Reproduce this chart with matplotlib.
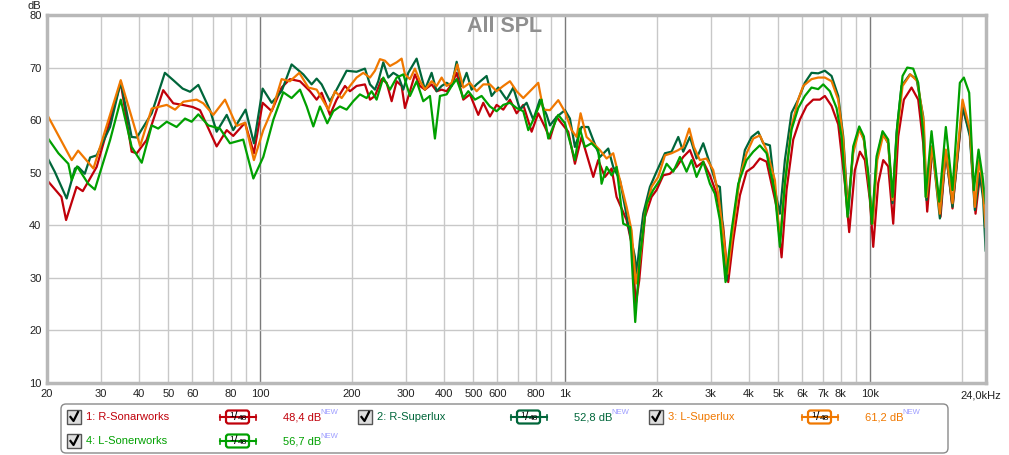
import matplotlib
matplotlib.use("Agg")
import matplotlib.pyplot as plt
from matplotlib.patches import FancyBboxPatch, Rectangle
from matplotlib.lines import Line2D

plt.rcParams['font.family'] = ['Liberation Sans', 'DejaVu Sans']

# ---------------- data ----------------
r_sonar_f = [20, 22.3, 23.1, 25, 26.2, 29.1, 34.9, 37.9, 39.4, 42.4, 48.1, 51.9, 55.7, 60.1, 63.5, 72, 77.7, 81.6, 89.2,
             95.4, 101.9, 109.1, 117.6, 125.2, 135.1, 145.7, 153.2, 159.1, 169.4, 178.1, 189.7, 197, 207.1, 220.6, 229.2,
             237.9, 250.3, 259.9, 269.9, 280.3, 291, 298.4, 309.9, 321.8, 334.2, 347, 365, 379, 393.6, 408.8, 424.6,
             440.9, 463.6, 487.5, 519.1, 539.1, 566.9, 596.2, 627, 659.3, 693.4, 729.2, 776.6, 816.5, 858.7,
             891.8, 937.6, 1024, 1077, 1132, 1237, 1284, 1351, 1421, 1475, 1591, 1652, 1706, 1750, 1827, 1921, 1995,
             2098, 2206, 2320, 2440, 2566, 2698, 2838, 2985, 3138, 3300, 3427, 3558, 3743, 3936, 4140, 4352, 4578,
             4937, 5127, 5323, 5598, 5886, 6190, 6510, 6847, 7110, 7478, 7864, 8268, 8543, 8917, 9261, 9617, 9988,
             10243, 10636, 11046, 11470, 11911, 12370, 12909, 13679, 14385, 14938, 15396, 16028, 17026, 17722, 18636,
             20102, 21245, 22178, 22910, 23620, 23930]
r_sonar_db = [48.6, 45.4, 41.0, 47.3, 46.5, 51.1, 67.1, 54.0, 53.7, 56.2, 65.7, 63.2, 62.9, 62.5, 61.9, 55.0, 58.1, 57.0, 59.5,
              53.7, 63.3, 61.7, 66.2, 67.8, 67.4, 65.5, 63.9, 65.2, 61.0, 63.9, 66.5, 65.5, 66.5, 66.8, 63.9,
              64.6, 67.8, 67.1, 63.6, 67.4, 66.5, 62.3, 65.5, 68.7, 66.5, 65.8, 66.8, 65.5, 65.8, 65.5, 66.8,
              69.0, 63.9, 64.9, 61.0, 63.3, 60.7, 62.9, 62.0, 63.9, 61.3, 62.9, 57.8, 61.3, 58.7,
              56.5, 60.6, 57.8, 51.7, 56.8, 49.2, 52.4, 49.2, 50.8, 45.4, 41.0, 36.5, 25.1, 29.5, 41.6, 45.4, 46.7,
              49.5, 49.8, 51.1, 53.0, 54.3, 51.1, 52.1, 49.5, 46.0, 39.7, 29.2, 37.1, 45.7, 50.2, 51.1, 52.7, 52.1,
              43.5, 33.9, 46.7, 56.3, 60.1, 62.7, 63.9, 63.9, 64.6, 62.7, 59.2, 48.0, 38.7, 50.5, 54.0, 52.4, 44.8,
              35.9, 48.0, 52.4, 51.2, 40.3, 56.9, 63.9, 66.2, 63.9, 55.6, 42.6, 55.0, 41.6, 54.0, 43.2,
              62.3, 57.6, 42.2, 49.3, 45.4, 37.8]

r_super_f = [20, 21.2, 23.2, 24.7, 25.3, 26.6, 27.7, 29.1, 32.2, 34.9, 37.9, 39.4, 44.1, 48.7, 51.9, 55.7, 58.9, 62.7,
             68.5, 72, 77.7, 81.6, 89.6,
             95.4, 101.9, 109.1, 117.6, 126.8, 138.5, 147.5, 153.2, 159.1, 169.4, 178.1, 192.1, 207.1, 220.6, 229.2,
             237.9, 244, 253.4, 263.2, 273.3, 283.8, 294.7, 306, 325.9, 347, 365, 379, 393.6, 408.8, 424.6, 440.9,
             457.8, 475.4, 493.7, 512.6, 552.8, 574.1, 603.7, 642.9, 676.1, 711.1, 747.8, 786.4, 826.8, 869.6,
             891.8, 937.6, 998.8, 1037, 1077, 1132, 1191, 1237, 1301, 1385, 1438, 1513, 1571, 1632, 1694, 1716, 1759,
             1804, 1897, 1995, 2125, 2234, 2350, 2440, 2566, 2698, 2838, 2985, 3138, 3218, 3384, 3514, 3696, 3886,
             4088, 4298, 4464, 4695,
             4875, 5062, 5257, 5528, 5813, 6112, 6428, 6761, 7110, 7478, 7864, 8166, 8479, 8805, 9214, 9544, 9861,
             10191, 10503, 10990, 11470, 11852, 12214, 12684, 13508, 14206, 14938, 15319, 15988, 16940, 17722, 18636,
             20102, 21245, 22062, 22910, 23500, 23930]
r_super_db = [53.0, 50.2, 45.1, 50.8, 51.1, 49.8, 52.9, 53.3, 58.7, 67.3, 56.8, 56.7, 61.3, 69.0, 67.6, 66.0, 65.4, 66.7,
              61.9, 57.8, 61.0, 58.1, 62.0,
              55.6, 66.0, 63.3, 65.5, 70.6, 68.7, 66.8, 67.9, 66.8, 63.6, 65.8, 69.4, 69.2, 69.8, 66.8,
              65.8, 67.4, 71.0, 68.1, 69.0, 68.4, 65.8, 69.0, 71.7, 65.8, 69.0, 65.5, 66.5, 67.1, 66.5, 71.1,
              66.5, 69.0, 65.8, 66.8, 68.4, 64.6, 66.2, 63.9, 66.2, 62.0, 63.3, 60.1, 63.9, 61.0,
              59.0, 60.6, 61.9, 60.3, 54.9, 58.7, 58.7, 56.2, 53.0, 54.6, 51.1, 48.6, 43.5, 38.4, 34.0, 30.8, 37.1,
              42.2, 47.3, 50.2, 53.7, 54.0, 56.8, 54.0, 56.8, 52.7, 55.6, 51.7, 47.6, 47.3, 29.5, 37.8, 47.3, 54.3,
              56.8, 57.8, 55.6, 55.2,
              46.7, 42.2, 52.4, 61.4, 63.9, 67.1, 69.0, 68.9, 69.4, 68.4, 64.6, 56.9, 42.2, 54.4, 58.5, 56.3, 49.3,
              40.3, 52.4, 57.6, 55.6, 44.2, 57.6, 66.5, 68.7, 67.8, 60.7, 44.8, 55.0, 41.3, 54.0, 43.5,
              62.7, 56.9, 42.9, 49.9, 44.8, 35.2]

l_super_f = [20, 24.1, 25.3, 28.4, 34.9, 40.4, 44.1, 49.4, 52.6, 56, 61.9, 65.1, 70.2, 76.7, 83.7, 89.2,
             95.4, 102.4, 110.5, 117.6, 125.2, 134.4, 143.9, 153.2, 167.3, 175.9, 185, 197, 207.1, 217.8, 229.2,
             237.9, 247.1, 256.6, 266.5, 280.3, 291, 298.4, 309.9, 321.8, 334.2, 347, 365, 379, 393.6, 408.8, 424.6,
             443.1, 463.6, 487.5, 512.6, 539.1, 566.9, 596.2, 627, 659.3, 693.4, 729.2, 776.6, 816.5, 847.9,
             891.8, 949.6, 998.8, 1050, 1091, 1124, 1176, 1237, 1301, 1368, 1438, 1513, 1591, 1652, 1706, 1759, 1827,
             1921, 2020, 2125, 2234, 2350, 2440, 2553, 2645, 2767, 2910, 3060, 3178, 3300, 3410, 3540, 3743, 3936,
             4140, 4352, 4578,
             4875, 5062, 5257, 5528, 5813, 6036, 6428, 6761, 7110, 7478, 7864, 8166, 8436, 8805, 9214, 9544, 9911,
             10191, 10560, 11046, 11470, 11852, 12276, 12781, 13560, 14300, 15013, 15319, 15988, 16940, 17722, 18636,
             20102, 21245, 22062, 22795, 23380, 23930]
l_super_db = [61.1, 52.4, 54.2, 50.8, 67.6, 55.1, 62.2, 62.9, 62.0, 63.5, 63.9, 63.2, 61.0, 63.9, 58.9, 59.5,
              52.4, 58.1, 62.6, 67.8, 67.4, 69.0, 66.2, 65.8, 62.0, 65.5, 64.2, 66.5, 68.1, 69.0, 68.1,
              69.4, 71.6, 71.3, 70.3, 71.0, 71.7, 68.7, 67.8, 69.8, 67.4, 65.8, 67.4, 66.5, 68.1, 66.5, 67.1,
              70.6, 66.2, 67.1, 65.5, 66.8, 66.8, 65.5, 66.5, 67.4, 65.5, 64.2, 65.8, 67.1, 62.0,
              61.9, 63.8, 61.6, 58.1, 56.8, 61.3, 56.8, 55.6, 54.3, 52.7, 53.7, 48.6, 43.5, 39.0, 28.9, 33.3, 42.2,
              47.3, 49.2, 53.3, 53.7, 54.3, 54.9, 58.4, 54.9, 52.4, 52.7, 50.5, 46.0, 38.4, 30.8, 38.4, 49.2, 53.7,
              56.5, 57.1, 54.3,
              48.6, 37.1, 48.0, 58.8, 63.9, 66.5, 67.8, 68.1, 68.1, 67.4, 63.9, 56.3, 42.9, 53.7, 58.2, 56.3, 48.0,
              40.3, 52.4, 57.2, 55.6, 44.8, 57.6, 66.5, 68.7, 67.4, 59.5, 45.4, 55.0, 42.2, 54.4, 44.2,
              63.9, 58.2, 43.5, 52.4, 48.0, 39.7]

l_sonar_f = [20, 21.8, 23.5, 24.1, 25.1, 27.3, 28.7, 32.2, 34.9, 37.9, 40.9, 44.1, 46.3, 49.4, 53.2, 56.7, 59.6, 62.7,
             67.6, 73.8, 79.6, 88, 95,
             102.4, 110.5, 119.1, 126.8, 135.1, 142.1, 149.4, 157.1, 166, 173.7, 182.7, 192.1, 202, 212.4, 223.4, 232,
             240.9, 253.4, 266.5, 280.3, 294.7, 309.9, 325.9, 342.7, 360.4, 374.2, 388.7, 408.8, 424.6, 440.9, 463.6,
             481.4, 506.2, 532.3, 566.9, 596.2, 627, 659.3, 693.4, 729.2, 757.3, 796.2, 837.3, 880.6,
             949.6, 998.8, 1077, 1118, 1161, 1221, 1284, 1317, 1368, 1421, 1475, 1551, 1632, 1698, 1759, 1850, 1945,
             2046, 2152, 2263, 2380, 2502, 2598, 2698, 2838, 2985, 3099, 3218, 3358, 3514, 3696, 3936, 4140, 4352, 4578,
             4875, 5062, 5257, 5528, 5813, 6112, 6428, 6761, 7021, 7384, 7766, 8064, 8436, 8805, 9214, 9544, 9861,
             10139, 10503, 10990, 11470, 11852, 12276, 12781, 13240, 13852, 14385, 14938, 15205, 15909, 16854, 17722,
             18636, 19700, 20304, 21140, 21896, 22685, 23380, 23930]
l_sonar_db = [56.8, 53.7, 51.7, 48.6, 51.2, 47.9, 46.8, 56.2, 63.9, 54.9, 51.9, 59.0, 58.4, 59.7, 58.7, 60.3, 59.7, 61.1,
              59.0, 58.4, 55.6, 56.3, 48.9,
              53.0, 60.1, 65.3, 64.2, 65.8, 62.6, 58.8, 62.6, 59.4, 61.7, 62.6, 62.0, 63.6, 64.9, 64.2, 65.5,
              63.9, 68.1, 65.8, 68.1, 68.7, 64.6, 67.4, 63.6, 64.6, 56.5, 64.6, 64.9, 66.5, 67.8, 64.2,
              65.5, 63.9, 64.6, 62.6, 61.7, 62.9, 63.3, 62.3, 61.7, 58.1, 60.7, 63.9, 56.5,
              61.0, 59.4, 52.4, 58.4, 54.9, 55.6, 54.3, 47.9, 51.1, 49.5, 51.1, 40.3, 39.7, 21.6, 34.0, 44.1, 46.7,
              48.6, 51.7, 50.2, 53.0, 50.2, 52.4, 49.2, 52.1, 47.9, 46.0, 41.0, 29.2, 39.0, 47.9, 52.4, 54.0, 55.2, 53.7,
              46.1, 35.9, 48.0, 58.2, 62.3, 64.6, 66.2, 65.9, 66.8, 65.5, 62.3, 56.9, 41.6, 55.0, 58.8, 56.9, 49.9,
              40.3, 53.1, 57.9, 56.3, 45.4, 58.8, 68.4, 70.0, 69.8, 67.1, 57.6, 45.4, 57.9, 44.5, 58.7,
              46.7, 67.1, 68.1, 65.2, 46.7, 54.4, 49.3, 44.2]

series_names = ['1: R-Sonarworks', '2: R-Superlux', '3: L-Superlux', '4: L-Sonerworks']
series_levels = ['48,4 dB', '52,8 dB', '61,2 dB', '56,7 dB']
series_colors = ['#c0000a', '#00663a', '#f07800', '#00a000']
smoothing = ('1', '48')

x_ticks = [20, 30, 40, 50, 60, 80, 100, 200, 300, 400, 500, 600, 800, 1000, 2000, 3000, 4000, 5000, 6000, 7000, 8000, 10000]
x_tick_labels = ['20', '30', '40', '50', '60', '80', '100', '200', '300', '400', '500', '600', '800',
                 '1k', '2k', '3k', '4k', '5k', '6k', '7k', '8k', '10k']
y_ticks = [10, 20, 30, 40, 50, 60, 70, 80]

# ---------------- figure ----------------
W, H = 1009, 455
fig = plt.figure(figsize=(W / 100, H / 100), dpi=100)
ax = fig.add_axes([47 / W, (H - 383) / H, 939 / W, 368 / H])
ax.set_xscale('log')
ax.set_xlim(20, 24000)
ax.set_ylim(10, 80)

grid_f = [20, 30, 40, 50, 60, 70, 80, 90, 100, 200, 300, 400, 500, 600, 700, 800, 900,
          1000, 2000, 3000, 4000, 5000, 6000, 7000, 8000, 9000, 10000, 20000]
for g in grid_f:
    dark = g in (100, 1000, 10000)
    ax.axvline(g, color='#7a7a7a' if dark else '#c8c8c8', lw=1.0, zorder=1)
for yv in y_ticks:
    ax.axhline(yv, color='#c8c8c8', lw=1.0, zorder=1)

for f, d, c in zip([r_sonar_f, r_super_f, l_super_f, l_sonar_f],
                   [r_sonar_db, r_super_db, l_super_db, l_sonar_db], series_colors):
    ax.plot(f, d, color=c, lw=1.6, zorder=3, solid_joinstyle='round')

ax.set_xticks(x_ticks)
ax.set_xticklabels(x_tick_labels)
ax.xaxis.set_minor_locator(matplotlib.ticker.NullLocator())
ax.set_yticks(y_ticks)
ax.tick_params(length=0, labelsize=8, colors='#202020', pad=4)
for s in ax.spines.values():
    s.set_color('#b8b8b8')
    s.set_linewidth(2.5)
    s.set_zorder(5)

T = fig.dpi_scale_trans
def P(x, y):
    return (x / 100, (H - y) / 100)

fig.text(*P(1001, 396), '24,0kHz', transform=T, ha='right', va='center', fontsize=8, color='#202020')
fig.text(*P(41, 6), 'dB', transform=T, ha='right', va='center', fontsize=8, color='#202020')
fig.text(*P(505, 27), 'All SPL', transform=T, ha='center', va='center', fontsize=15.5,
         fontweight='bold', color='#8f8f8f')

# ---------------- legend ----------------
lx0, ly0, lx1, ly1 = 61, 404, 948, 453
fig.patches.append(FancyBboxPatch(P(lx0, ly1), (lx1 - lx0) / 100, (ly1 - ly0) / 100,
                                  boxstyle='round,pad=0,rounding_size=0.05', transform=T,
                                  facecolor='white', edgecolor='#8a8a8a', lw=1.0))

slots = [(67, 417), (358, 417), (649, 417), (67, 441)]
for (sx, sy), name, lvl, col in zip(slots, series_names, series_levels, series_colors):
    # checkbox
    fig.patches.append(Rectangle(P(sx, sy + 7), 0.14, 0.14, transform=T,
                                 facecolor='#dedede', edgecolor='#555555', lw=1.0))
    cx = [sx + 3.5, sx + 6.5, sx + 11]
    cy = [sy, sy + 4, sy - 5]
    fig.lines.append(Line2D([c / 100 for c in cx], [(H - c) / 100 for c in cy], transform=T,
                            color='black', lw=1.6))
    fig.text(*P(sx + 19, sy), name, transform=T, ha='left', va='center', fontsize=8, color=col)
    # smoothing box
    bx = sx + 153
    fig.lines.append(Line2D([bx / 100, (bx + 36) / 100], [(H - sy) / 100] * 2, transform=T, color=col, lw=1.5))
    for ex in (bx, bx + 36):
        fig.lines.append(Line2D([ex / 100] * 2, [(H - sy - 2.5) / 100, (H - sy + 2.5) / 100], transform=T,
                                color=col, lw=1.2))
    fig.patches.append(FancyBboxPatch(P(bx + 6, sy + 6.5), 0.23, 0.13,
                                      boxstyle='round,pad=0,rounding_size=0.025', transform=T,
                                      facecolor='white', edgecolor=col, lw=1.6))
    fig.text(*P(bx + 12, sy - 1.5), smoothing[0], transform=T, ha='center', va='center',
             fontsize=6, color='black')
    fig.text(*P(bx + 15.5, sy), '/', transform=T, ha='center', va='center',
             fontsize=9, color='black')
    fig.text(*P(bx + 22.5, sy + 1.5), smoothing[1], transform=T, ha='center', va='center',
             fontsize=6, color='black')
    fig.text(*P(sx + 216, sy), lvl, transform=T, ha='left', va='center', fontsize=8, color=col)
    fig.text(*P(sx + 253, sy - 4), 'NEW', transform=T, ha='left', va='center', fontsize=5.5, color='#9c9cff')

fig.savefig('out.png', dpi=100)
